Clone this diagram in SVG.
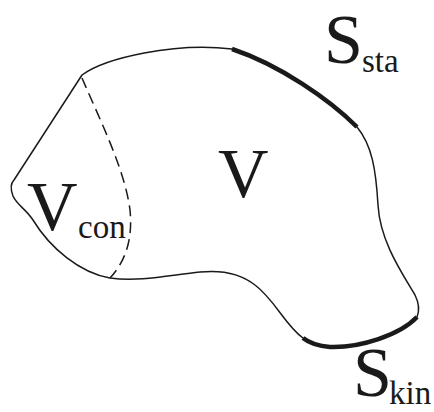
<svg xmlns="http://www.w3.org/2000/svg" width="434" height="412" viewBox="0 0 434 412">
<style>
.thin{fill:none;stroke:#1a1a1a;stroke-width:1.5;stroke-linejoin:round}
.thick{fill:none;stroke:#1a1a1a;stroke-width:4.5;stroke-linecap:butt}
.dash{fill:none;stroke:#1a1a1a;stroke-width:1.5;stroke-dasharray:11 6}
text{font-family:"Liberation Serif","Times New Roman",serif;fill:#1a1a1a}
.big{font-size:70px}
.sub{font-size:33px}
</style>
<rect width="434" height="412" fill="#fff"/>
<g id="body">
<path class="thin" d="M82,75 C105,58 175,42 232,49 C280,65 330,100 357,127 C372,145 376,170 378,205 C380,240 400,270 415,295 C420,305 419,312 417,317 C400,335 360,348 330,347 C318,346 308,342 303,338 C285,325 275,300 255,285 C240,273 220,270 200,272 C170,275 140,282 110,278 C80,273 50,248 33,220 C25,208 17,205 13,196 C10,188 11,183 14,180 L82,75 Z"/>
</g>
<g id="boundaries">
<path id="Ssta-edge" class="thick" d="M232,49 C280,65 330,100 357,127"/>
<path id="Skin-edge" class="thick" d="M417,317 C400,335 360,348 330,347 C318,346 308,342 303,338"/>
<path id="Vcon-edge" class="dash" d="M82,78 C100,120 125,170 130,210 C133,240 125,262 110,278"/>
</g>
<g id="labels">
<text class="big" x="218" y="197">V</text>
<text class="big" x="27" y="230">V</text>
<text class="sub" x="78" y="238">con</text>
<text class="big" x="324" y="63">S</text>
<text class="sub" x="362" y="72">sta</text>
<text class="big" x="353" y="396">S</text>
<text class="sub" x="389" y="404">kin</text>
</g>
</svg>
